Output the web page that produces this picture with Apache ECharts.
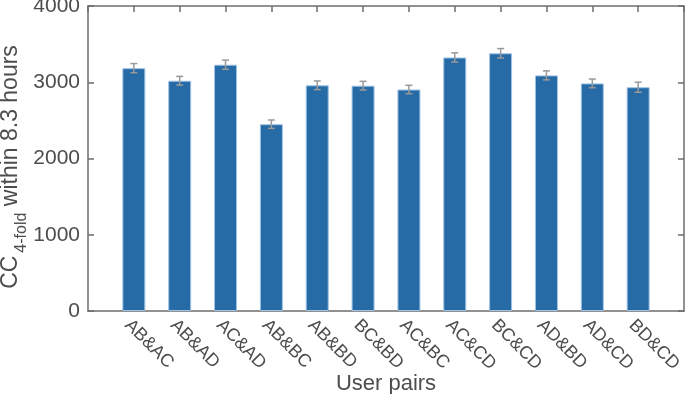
<!DOCTYPE html>
<html>
<head>
<meta charset="utf-8">
<script src="https://cdn.jsdelivr.net/npm/echarts@6/dist/echarts.min.js"></script>
<style>
  html, body { margin: 0; padding: 0; background: #fff; }
  #main { width: 685px; height: 394px; }
</style>
</head>
<body>
<div id="main"></div>
<script>
var categories = ['AB&AC', 'AB&AD', 'AC&AD', 'AB&BC', 'AB&BD', 'BC&BD', 'AC&BC', 'AC&CD', 'BC&CD', 'AD&BD', 'AD&CD', 'BD&CD'];
var values = [3185, 3020, 3230, 2450, 2960, 2955, 2905, 3325, 3380, 3090, 2985, 2935];
var errors = [60, 57, 60, 55, 57, 57, 55, 60, 62, 59, 57, 66];
var yTicks = [0, 1000, 2000, 3000, 4000];

var chart = echarts.init(document.getElementById('main'));

var textColor = '#4d4d4d';
var axisColor = '#6e6e6e';
var font = 'Liberation Sans, Arial, sans-serif';

// bars sit at x = 1..12 on a 0..13 value axis, like MATLAB
var barData = values.map(function (v, i) { return [i + 1, v]; });
var errData = values.map(function (v, i) { return [i + 1, v - errors[i], v + errors[i]]; });

var lineStyle = { color: axisColor, width: 1.5 };

var option = {
  animation: false,
  grid: { left: 88, right: 1, top: 6, bottom: 83, containLabel: false, outerBoundsMode: 'none' },
  xAxis: [
    {
      type: 'value',
      min: 0, max: 13, interval: 1,
      name: 'User pairs',
      nameLocation: 'middle',
      nameGap: 62,
      nameMoveOverlap: false,
      nameTextStyle: { color: textColor, fontSize: 22, fontFamily: font },
      axisLine: { show: true, onZero: false, lineStyle: lineStyle },
      axisTick: { show: true, inside: true, length: 6, lineStyle: lineStyle },
      axisLabel: {
        rotate: -45,
        margin: 5,
        verticalAlign: 'top',
        color: textColor,
        fontSize: 18,
        fontFamily: font,
        showMinLabel: false,
        showMaxLabel: false,
        formatter: function (v) {
          return categories[v - 1] || '';
        }
      },
      splitLine: { show: false }
    },
    {
      type: 'value',
      position: 'top',
      min: 0, max: 13, interval: 1,
      axisLine: { show: true, onZero: false, lineStyle: lineStyle },
      axisTick: { show: true, inside: true, length: 6, lineStyle: lineStyle },
      axisLabel: { show: false },
      splitLine: { show: false }
    }
  ],
  yAxis: [
    {
      type: 'value',
      min: yTicks[0], max: yTicks[yTicks.length - 1], interval: 1000,
      name: '{main|CC}{sub|4-fold}{main| within 8.3 hours}',
      nameLocation: 'middle',
      nameRotate: 90,
      nameGap: 66,
      nameMoveOverlap: false,
      nameTextStyle: {
        color: textColor,
        fontFamily: font,
        fontSize: 23,
        padding: [0, 17, 0, 0],
        rich: {
          main: { fontSize: 23, color: textColor, fontFamily: font, lineHeight: 23, verticalAlign: 'top' },
          sub: { fontSize: 16, color: textColor, fontFamily: font, lineHeight: 16, verticalAlign: 'top', padding: [15, 0, 0, 3] }
        }
      },
      axisLine: { show: true, onZero: false, lineStyle: lineStyle },
      axisTick: { show: true, inside: true, length: 6, lineStyle: lineStyle },
      axisLabel: {
        color: textColor, fontSize: 21, fontFamily: font, margin: 8,
        formatter: function (v) { return String(v); }
      },
      splitLine: { show: false }
    },
    {
      type: 'value',
      position: 'right',
      min: yTicks[0], max: yTicks[yTicks.length - 1], interval: 1000,
      axisLine: { show: true, onZero: false, lineStyle: lineStyle },
      axisTick: { show: true, inside: true, length: 6, lineStyle: lineStyle },
      axisLabel: { show: false },
      splitLine: { show: false }
    }
  ],
  series: [
    {
      type: 'bar',
      data: barData,
      barWidth: 23,
      itemStyle: { color: '#276ba6', borderColor: '#9fc3e6', borderWidth: 1 }
    },
    {
      type: 'custom',
      data: errData,
      z: 5,
      renderItem: function (params, api) {
        var x = api.value(0);
        var lo = api.coord([x, api.value(1)]);
        var hi = api.coord([x, api.value(2)]);
        var cap = 3.5;
        var style = { stroke: '#9a9a9a', lineWidth: 1.5 };
        return {
          type: 'group',
          children: [
            { type: 'line', shape: { x1: lo[0], y1: lo[1], x2: hi[0], y2: hi[1] }, style: style },
            { type: 'line', shape: { x1: lo[0] - cap, y1: lo[1], x2: lo[0] + cap, y2: lo[1] }, style: style },
            { type: 'line', shape: { x1: hi[0] - cap, y1: hi[1], x2: hi[0] + cap, y2: hi[1] }, style: style }
          ]
        };
      }
    }
  ]
};

chart.setOption(option);
</script>
</body>
</html>
